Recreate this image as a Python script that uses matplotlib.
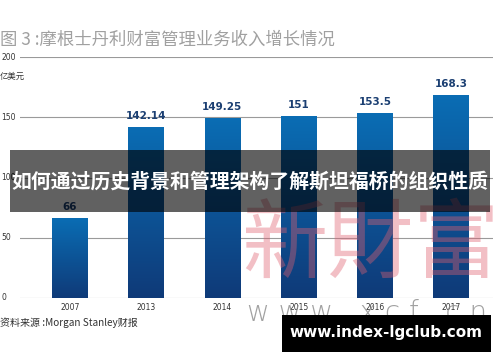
import matplotlib
matplotlib.use("Agg")
import matplotlib.pyplot as plt
import numpy as np
from matplotlib.patches import Rectangle
from matplotlib.colors import LinearSegmentedColormap

plt.rcParams['font.family'] = ['Noto Sans CJK SC', 'DejaVu Sans']

years = ["2007", "2013", "2014", "2015", "2016", "2017"]
values = [66, 142.14, 149.25, 151, 153.5, 168.3]
labels = ["66", "142.14", "149.25", "151", "153.5", "168.3"]
yticks = [0, 50, 100, 150, 200]

W, H = 500, 362
fig = plt.figure(figsize=(5, 3.62), dpi=100)
ax = fig.add_axes([20/W, 1-298/H, 473/W, (298-57)/H])
x = np.arange(len(years))
bars = ax.bar(x, values, width=0.47, color='none', zorder=2)
cmap = LinearSegmentedColormap.from_list('g', ['#0f3a78', '#0a6db4'])
grad = np.linspace(0, 1, 256).reshape(-1, 1)
for b in bars:
    x0, y0 = b.get_x(), b.get_y()
    im = ax.imshow(grad, extent=[x0, x0+b.get_width(), y0, y0+b.get_height()],
                   origin='lower', cmap=cmap, aspect='auto', zorder=2)
    im.set_clip_path(b)
for xi, v, l in zip(x, values, labels):
    ax.text(xi, v+5, l, ha='center', va='bottom', fontsize=7.5, fontweight='bold',
            color='#1b3f72', family='DejaVu Sans', clip_on=False)
ax.set_xlim(-0.656, 5.55)
ax.set_ylim(0, 200)
ax.set_xticks([])
ax.set_yticks([])
for s in ax.spines.values():
    s.set_visible(False)
for t in yticks:
    ax.axhline(t, color='#9a9a9a', lw=0.8, zorder=1)
    fig.text(1/W, 1-(298-t*241/200)/H, str(t), fontsize=5.5, color='#333333',
             ha='left', va='center', family='DejaVu Sans')
for xi, yl in zip(x, years):
    ax.text(xi, -4, yl, ha='center', va='top', fontsize=5.5, color='#333333',
            family='DejaVu Sans')
ax.set_facecolor('white')

fig.text(0, 1-40/H, "图 3 :摩根士丹利财富管理业务收入增长情况", fontsize=12.5, color='#a0a0a0',
         ha='left', va='center', fontweight='light')
fig.text(0, 1-76/H, "亿美元", fontsize=6, color='#333333', ha='left', va='center')
fig.text(0, 1-323/H, "资料来源 :Morgan Stanley财报", fontsize=7.2, color='#333333',
         ha='left', va='center')

# watermark
fig.text(370/W, 1-247/H, "新財富", fontsize=62, color='#e06070', alpha=0.4,
         ha='center', va='center', family=['Noto Sans CJK TC'], zorder=5)
fig.text(367/W, 1-313/H, "w w w . x c f . c n", fontsize=20, color='#8a8a8a', alpha=0.8,
         ha='center', va='center', family='DejaVu Sans', fontweight='light', zorder=5)

# dark overlay band
fig.patches.append(Rectangle((10/W, 1-212/H), 480/W, 62/H, transform=fig.transFigure,
                             facecolor='black', alpha=0.62, edgecolor='none', zorder=10))
fig.text(250/W, 1-181/H, "如何通过历史背景和管理架构了解斯坦福桥的组织性质", fontsize=14.3,
         fontweight='bold', color='white', ha='center', va='center', zorder=11)

fig.patches.append(Rectangle((282/W, 1-352/H), 209/W, 37/H, transform=fig.transFigure,
                             facecolor='black', edgecolor='none', zorder=10))
fig.text(386/W, 1-333/H, "www.index-lgclub.com", fontsize=11, fontweight='bold',
         color='white', ha='center', va='center', zorder=11, family='DejaVu Sans')

fig.savefig("out.png", dpi=100)
